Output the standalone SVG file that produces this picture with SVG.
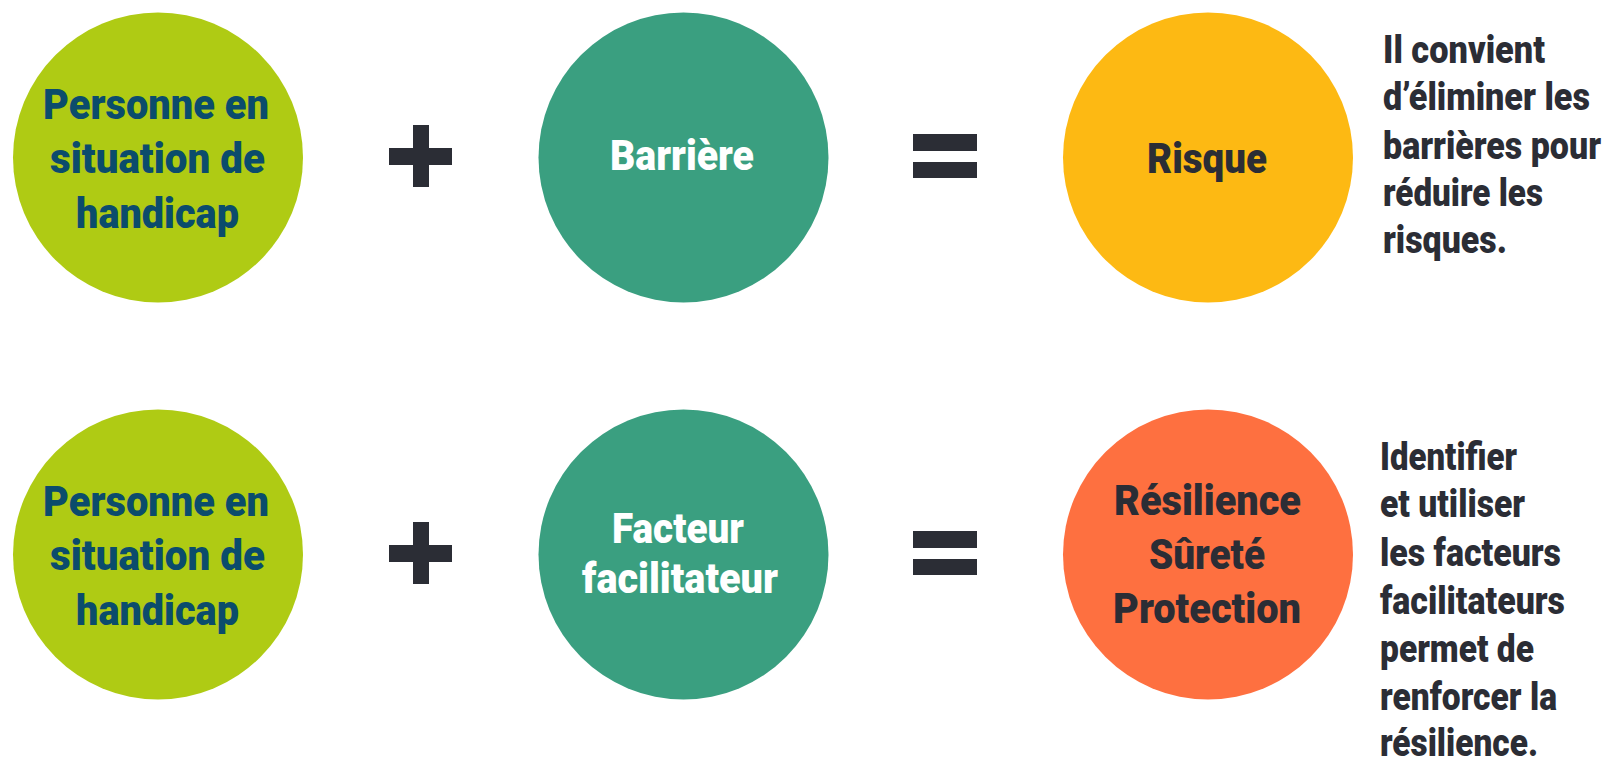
<svg xmlns="http://www.w3.org/2000/svg" width="1608" height="765" viewBox="0 0 1608 765">
<style>
text{font-family:Roboto,"Liberation Sans",sans-serif;font-weight:900;}
.c{font-size:43px;text-anchor:middle;}
.blue{fill:#0b4c6c;}
.white{fill:#ffffff;}
.dark{fill:#2b2d35;}
.side{font-size:39px;fill:#2b2d35;}
.op{fill:#2b2d35;}
</style>
<rect width="1608" height="765" fill="#ffffff"/>
<g id="person1">
<circle cx="158" cy="157.5" r="145" fill="#afcb14"/>
<text class="c blue" x="156" y="119" textLength="226" lengthAdjust="spacingAndGlyphs">Personne en</text>
<text class="c blue" x="157.5" y="173" textLength="215" lengthAdjust="spacingAndGlyphs">situation de</text>
<text class="c blue" x="157.5" y="228" textLength="163" lengthAdjust="spacingAndGlyphs">handicap</text>
</g>
<g id="plus1" class="op"><rect x="389" y="148" width="63" height="17"/><rect x="413" y="125" width="16" height="62"/></g>
<g id="barriere">
<circle cx="683.5" cy="157.5" r="145" fill="#3a9f80"/>
<text class="c white" x="682" y="170" textLength="144" lengthAdjust="spacingAndGlyphs">Barrière</text>
</g>
<g id="eq1" class="op"><rect x="913" y="134" width="64" height="17"/><rect x="913" y="162" width="64" height="16"/></g>
<g id="risque">
<circle cx="1208" cy="157.5" r="145" fill="#fdb913"/>
<text class="c dark" x="1207" y="173" textLength="120" lengthAdjust="spacingAndGlyphs">Risque</text>
</g>
<g id="note1" transform="translate(1383 0) scale(0.86 1)">
<text class="side" x="0" y="63" textLength="188.4" lengthAdjust="spacingAndGlyphs">Il convient</text>
<text class="side" x="0" y="110" textLength="240.7" lengthAdjust="spacingAndGlyphs">d’éliminer les</text>
<text class="side" x="0" y="159" textLength="253.5" lengthAdjust="spacingAndGlyphs">barrières pour</text>
<text class="side" x="0" y="206" textLength="186" lengthAdjust="spacingAndGlyphs">réduire les</text>
<text class="side" x="0" y="253" textLength="144.2" lengthAdjust="spacingAndGlyphs">risques.</text>
</g>
<g id="person2">
<circle cx="158" cy="554.5" r="145" fill="#afcb14"/>
<text class="c blue" x="156" y="516" textLength="226" lengthAdjust="spacingAndGlyphs">Personne en</text>
<text class="c blue" x="157.5" y="570" textLength="215" lengthAdjust="spacingAndGlyphs">situation de</text>
<text class="c blue" x="157.5" y="625" textLength="163" lengthAdjust="spacingAndGlyphs">handicap</text>
</g>
<g id="plus2" class="op"><rect x="389" y="545" width="63" height="17"/><rect x="413" y="522" width="16" height="62"/></g>
<g id="facteur">
<circle cx="683.5" cy="554.5" r="145" fill="#3a9f80"/>
<text class="c white" x="678" y="543" textLength="132" lengthAdjust="spacingAndGlyphs">Facteur</text>
<text class="c white" x="680" y="593" textLength="196" lengthAdjust="spacingAndGlyphs">facilitateur</text>
</g>
<g id="eq2" class="op"><rect x="913" y="531" width="64" height="17"/><rect x="913" y="559" width="64" height="16"/></g>
<g id="resilience">
<circle cx="1208" cy="554.5" r="145" fill="#fe7040"/>
<text class="c dark" x="1207.5" y="515" textLength="187" lengthAdjust="spacingAndGlyphs">Résilience</text>
<text class="c dark" x="1207" y="569" textLength="116" lengthAdjust="spacingAndGlyphs">Sûreté</text>
<text class="c dark" x="1207" y="623" textLength="188" lengthAdjust="spacingAndGlyphs">Protection</text>
</g>
<g id="note2">
<text class="side" x="1380" y="470" textLength="137" lengthAdjust="spacingAndGlyphs">Identifier</text>
<text class="side" x="1380" y="517" textLength="145" lengthAdjust="spacingAndGlyphs">et utiliser</text>
<text class="side" x="1380" y="566" textLength="181" lengthAdjust="spacingAndGlyphs">les facteurs</text>
<text class="side" x="1380" y="614" textLength="185" lengthAdjust="spacingAndGlyphs">facilitateurs</text>
<text class="side" x="1380" y="662" textLength="154" lengthAdjust="spacingAndGlyphs">permet de</text>
<text class="side" x="1380" y="710" textLength="177" lengthAdjust="spacingAndGlyphs">renforcer la</text>
<text class="side" x="1380" y="756" textLength="158" lengthAdjust="spacingAndGlyphs">résilience.</text>
</g>
</svg>
